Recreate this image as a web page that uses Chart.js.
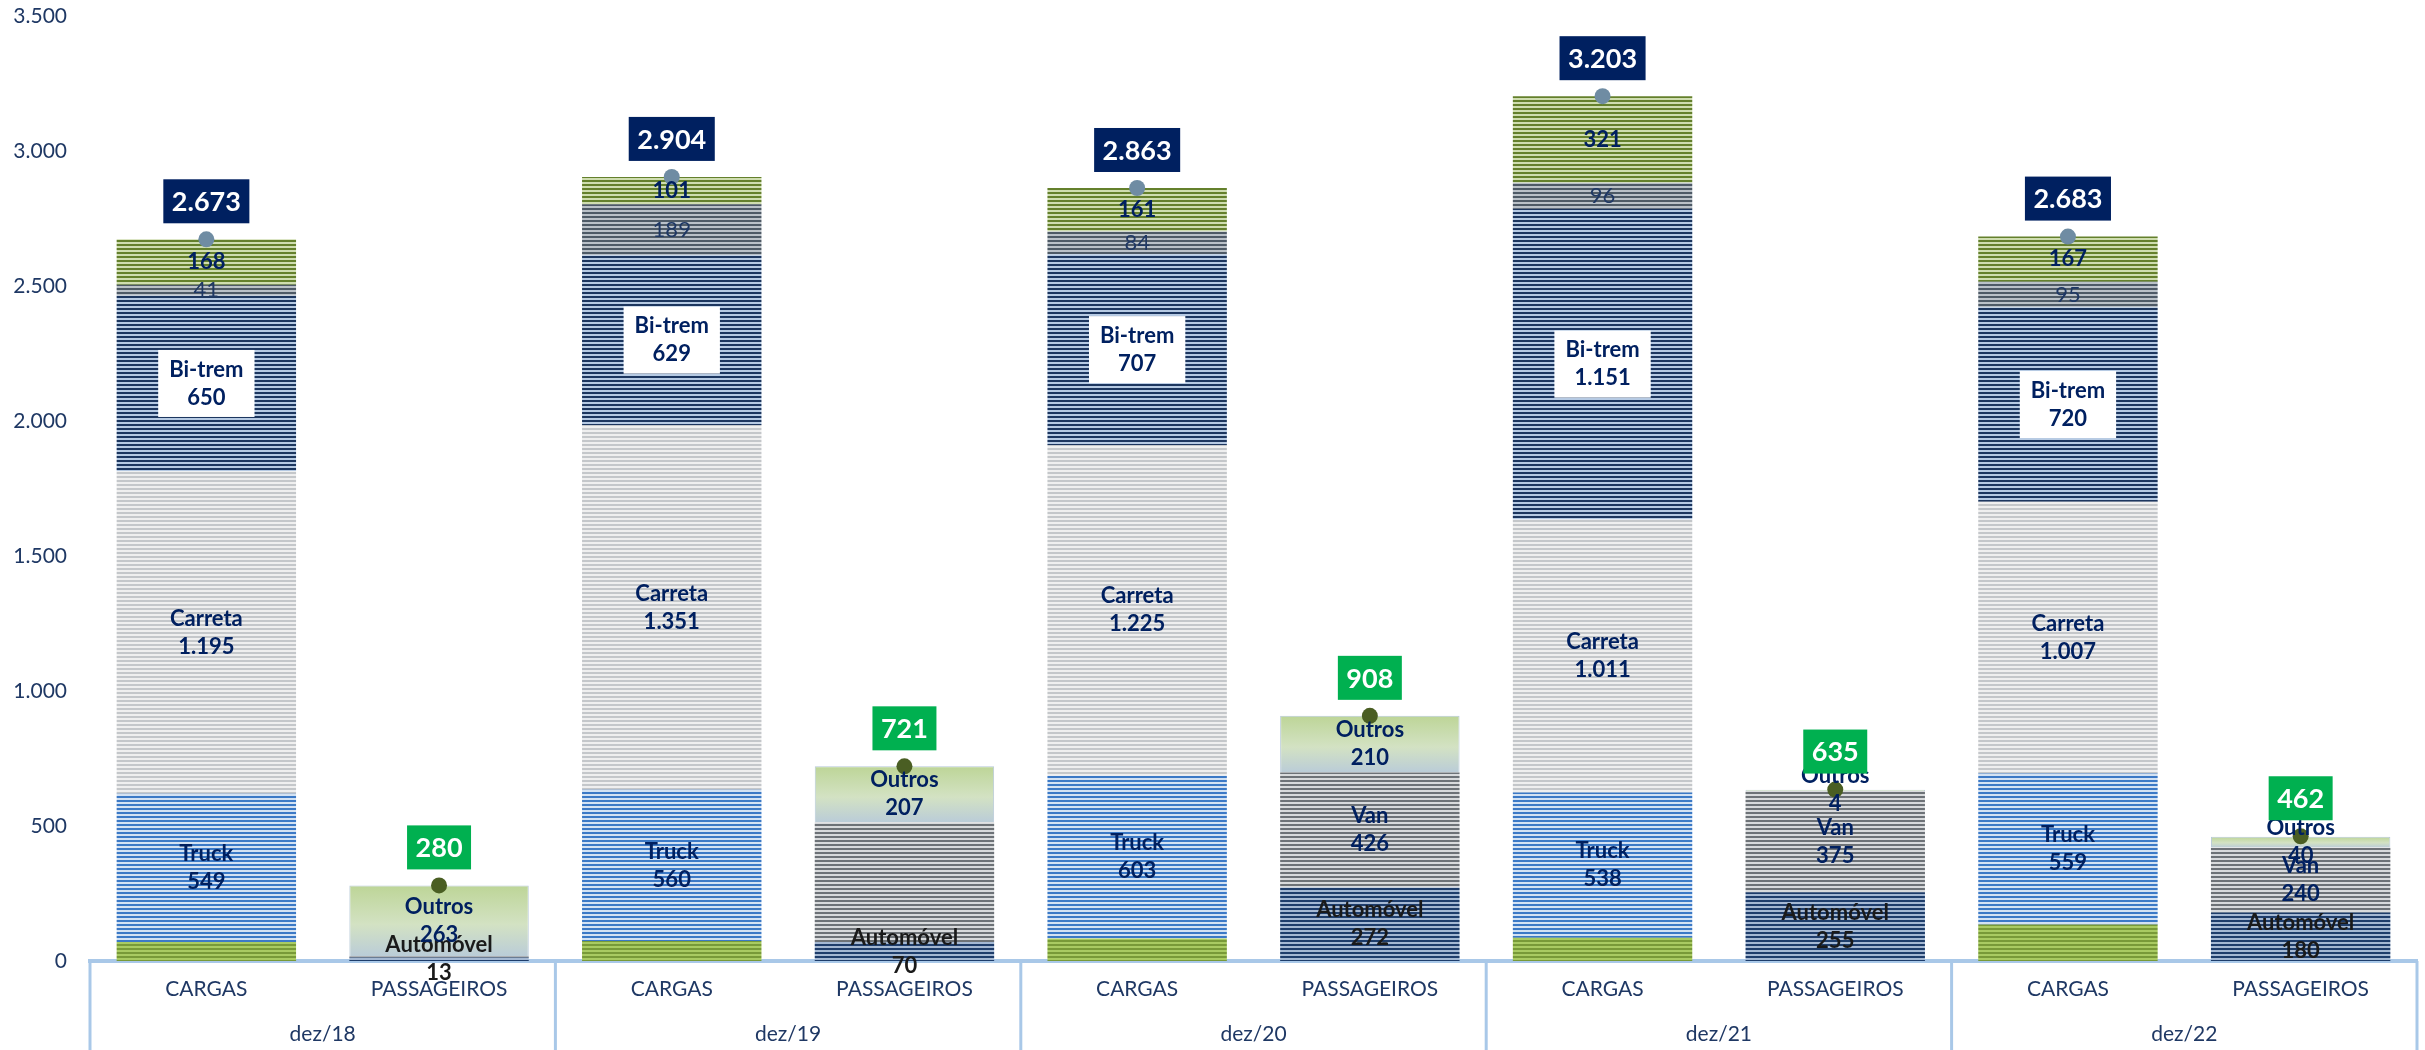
<!DOCTYPE html>
<html>
<head>
<meta charset="utf-8">
<script src="https://cdn.jsdelivr.net/npm/chart.js@4.4.0/dist/chart.umd.min.js"></script>
<style>
  html, body { margin: 0; padding: 0; background: #ffffff; }
  #wrap { width: 2425px; height: 1050px; }
</style>
</head>
<body>
<div id="wrap"><canvas id="c" width="2425" height="1050"></canvas></div>
<script>
// ---------- DATA ----------
const groups = ['dez/18', 'dez/19', 'dez/20', 'dez/21', 'dez/22'];
const subCats = ['CARGAS', 'PASSAGEIROS'];
const yTicks = [0, 500, 1000, 1500, 2000, 2500, 3000, 3500];

// CARGAS (bottom to top)
const cargasBase   = [70, 74, 83, 86, 135];        // unlabelled bottom segment
const truck        = [549, 560, 603, 538, 559];
const carreta      = [1195, 1351, 1225, 1011, 1007];
const bitrem       = [650, 629, 707, 1151, 720];
const cargasCinza  = [41, 189, 84, 96, 95];
const cargasOutros = [168, 101, 161, 321, 167];
const totalCargas  = [2673, 2904, 2863, 3203, 2683];

// PASSAGEIROS (bottom to top)
const automovel    = [13, 70, 272, 255, 180];
const van          = [4, 444, 426, 375, 240];
const passOutros   = [263, 207, 210, 4, 40];
const totalPass    = [280, 721, 908, 635, 462];

// ---------- HELPERS ----------
const categories = groups.flatMap(() => subCats);
const asCargas = a => a.flatMap(v => [v, null]);
const asPass = a => a.flatMap(v => [null, v]);
const fmt = v => String(Math.round(v)).replace(/\B(?=(\d{3})+(?!\d))/g, '.');

const NAVY = '#002060';
const AXIS_BLUE = '#A9C8E8';
const FONT = 'Lato';

function stripes(dark, light, dh, lh) {
  const c = document.createElement('canvas');
  c.width = 4; c.height = dh + lh;
  const g = c.getContext('2d');
  g.fillStyle = light; g.fillRect(0, 0, 4, dh + lh);
  g.fillStyle = dark; g.fillRect(0, 0, 4, dh);
  return g.createPattern(c, 'repeat');
}

const pat = {
  base:    stripes('#789A38', '#A9CB62', 2, 2),
  truck:   stripes('#3B79C6', '#D3E2F3', 2, 2),
  carreta: stripes('#C4C7CA', '#EFEFEF', 2, 2),
  bitrem:  stripes('#1C365F', '#B6CAE3', 2, 2),
  cinza:   stripes('#4E5A66', '#BAC1C8', 2, 2),
  outrosC: stripes('#64802C', '#CFDDB0', 2, 2),
  auto:    stripes('#1E3D6B', '#A4B8D3', 2, 2),
  van:     stripes('#6D7277', '#D8DADC', 2, 2)
};

function outrosPassFill(ctx) {
  const chart = ctx.chart;
  if (!chart.chartArea || ctx.type !== 'data') return '#D0E0BC';
  const g = Math.floor(ctx.dataIndex / 2);
  const lo = automovel[g] + van[g];
  const hi = lo + passOutros[g];
  const y = chart.scales.y;
  const y0 = y.getPixelForValue(hi), y1 = y.getPixelForValue(lo);
  if (!isFinite(y0) || !isFinite(y1) || y1 - y0 < 1) return '#C8DBAE';
  const grad = chart.ctx.createLinearGradient(0, y0, 0, y1);
  grad.addColorStop(0, '#BDD597');
  grad.addColorStop(0.55, '#D3E2C3');
  grad.addColorStop(1, '#BACCD8');
  return grad;
}

function barDs(label, data, bg, lbl, extra) {
  return Object.assign({
    type: 'bar', label, data, backgroundColor: bg, borderWidth: 0,
    xAxisID: 'x', yAxisID: 'y', stack: 's', order: 2,
    barPercentage: 0.771, categoryPercentage: 1.0, lbl
  }, extra || {});
}

const datasets = [
  barDs('Base', asCargas(cargasBase), pat.base, null),
  barDs('Truck', asCargas(truck), pat.truck, { name: 'Truck', weight: 'bold', color: NAVY }),
  barDs('Carreta', asCargas(carreta), pat.carreta, { name: 'Carreta', weight: 'bold', color: NAVY }),
  barDs('Bi-trem', asCargas(bitrem), pat.bitrem, { name: 'Bi-trem', weight: 'bold', color: NAVY, box: true }),
  barDs('Cinza', asCargas(cargasCinza), pat.cinza, { name: null, weight: 'normal', color: '#1F3864' }),
  barDs('OutrosC', asCargas(cargasOutros), pat.outrosC, { name: null, weight: 'bold', color: NAVY }),
  barDs('Automóvel', asPass(automovel), pat.auto, { name: 'Automóvel', weight: 'bold', color: '#1A1A1A' }),
  barDs('Van', asPass(van), pat.van, { name: 'Van', weight: 'bold', color: NAVY, hide: [1, 3] }),
  barDs('Outros', asPass(passOutros), outrosPassFill, { name: 'Outros', weight: 'bold', color: NAVY },
        { borderWidth: 1, borderColor: '#B7C9D8' }),
  {
    type: 'line', label: 'Total Cargas', data: asCargas(totalCargas), showLine: false,
    xAxisID: 'x', yAxisID: 'yT', order: 0,
    pointRadius: 8, pointHoverRadius: 8, pointBackgroundColor: '#6F8CA3', pointBorderWidth: 0,
    totalBox: '#002060'
  },
  {
    type: 'line', label: 'Total Passageiros', data: asPass(totalPass), showLine: false,
    xAxisID: 'x', yAxisID: 'yT', order: 0,
    pointRadius: 8, pointHoverRadius: 8, pointBackgroundColor: '#4A5E23', pointBorderWidth: 0,
    totalBox: '#00B050'
  }
];

// ---------- PLUGINS ----------
const segLabels = {
  id: 'segLabels',
  afterDatasetsDraw(chart) {
    const ctx = chart.ctx;
    chart.data.datasets.forEach((ds, di) => {
      if (!ds.lbl) return;
      const meta = chart.getDatasetMeta(di);
      meta.data.forEach((el, i) => {
        const v = ds.data[i];
        if (v == null || (ds.lbl.hide || []).includes(i)) return;
        const p = el.getProps(['x', 'y', 'base'], true);
        const cy = (p.y + p.base) / 2;
        const lines = ds.lbl.name ? [ds.lbl.name, fmt(v)] : [fmt(v)];
        ctx.save();
        ctx.font = `${ds.lbl.weight} 22px ${FONT}`;
        ctx.textAlign = 'center';
        ctx.textBaseline = 'middle';
        const lh = 28;
        if (ds.lbl.box) {
          const w = Math.max(...lines.map(l => ctx.measureText(l).width)) + 22;
          const h = 67;
          ctx.fillStyle = '#FFFFFF';
          ctx.fillRect(p.x - w / 2, cy - h / 2, w, h);
        }
        ctx.fillStyle = ds.lbl.color;
        lines.forEach((l, k) => ctx.fillText(l, p.x, cy + (k - (lines.length - 1) / 2) * lh));
        ctx.restore();
      });
    });
  }
};

const totalLabels = {
  id: 'totalLabels',
  afterDatasetsDraw(chart) {
    const ctx = chart.ctx;
    chart.data.datasets.forEach((ds, di) => {
      if (!ds.totalBox) return;
      const meta = chart.getDatasetMeta(di);
      meta.data.forEach((el, i) => {
        const v = ds.data[i];
        if (v == null) return;
        const p = el.getProps(['x', 'y'], true);
        const txt = fmt(v);
        ctx.save();
        ctx.font = `bold 27px ${FONT}`;
        const w = ctx.measureText(txt).width + 17;
        const h = 44;
        const cy = p.y - 38;
        ctx.fillStyle = ds.totalBox;
        ctx.fillRect(p.x - w / 2, cy - h / 2, w, h);
        ctx.fillStyle = '#FFFFFF';
        ctx.textAlign = 'center';
        ctx.textBaseline = 'middle';
        ctx.fillText(txt, p.x, cy + 1);
        ctx.restore();
      });
    });
  }
};

const groupLines = {
  id: 'groupLines',
  afterDraw(chart) {
    const x = chart.scales.x;
    const ctx = chart.ctx;
    const half = (x.getPixelForValue(1) - x.getPixelForValue(0)) / 2;
    ctx.save();
    ctx.strokeStyle = AXIS_BLUE;
    ctx.lineWidth = 3;
    for (let k = 0; k <= groups.length; k++) {
      const px = k < groups.length
        ? x.getPixelForValue(k * subCats.length) - half
        : x.getPixelForValue(categories.length - 1) + half;
      ctx.beginPath();
      ctx.moveTo(px, chart.chartArea.bottom);
      ctx.lineTo(px, chart.height);
      ctx.stroke();
    }
    ctx.restore();
  }
};

// ---------- CHART ----------
Chart.defaults.font.family = FONT;
new Chart(document.getElementById('c'), {
  data: { labels: categories, datasets },
  options: {
    responsive: false,
    animation: false,
    devicePixelRatio: 1,
    layout: { padding: { top: 16, right: 2, left: 0, bottom: 0 } },
    plugins: { legend: { display: false }, tooltip: { enabled: false } },
    scales: {
      x: {
        type: 'category', position: 'bottom', stacked: true, offset: true,
        grid: { display: false, drawTicks: false },
        border: { display: true, color: AXIS_BLUE, width: 4 },
        ticks: { color: '#1F3864', font: { size: 21 }, padding: 16, maxRotation: 0, autoSkip: false },
        afterFit: s => { s.height = 44; }
      },
      x2: {
        type: 'category', position: 'bottom', labels: groups, offset: true,
        grid: { display: false, drawTicks: false },
        border: { display: false },
        ticks: { color: '#1F3864', font: { size: 21 }, padding: 17, maxRotation: 0, autoSkip: false },
        afterFit: s => { s.height = 45; }
      },
      y: {
        stacked: true, min: 0, max: 3500,
        afterBuildTicks: s => { s.ticks = yTicks.map(v => ({ value: v })); },
        grid: { display: false, drawTicks: false },
        border: { display: false },
        ticks: { color: '#1F3864', font: { size: 21 }, padding: 23, callback: v => fmt(v) },
        afterFit: s => { s.width = 90; s.paddingTop = 0; s.paddingBottom = 0; }
      },
      yT: { display: false, min: 0, max: 3500 }
    }
  },
  plugins: [segLabels, totalLabels, groupLines]
});
</script>
</body>
</html>
